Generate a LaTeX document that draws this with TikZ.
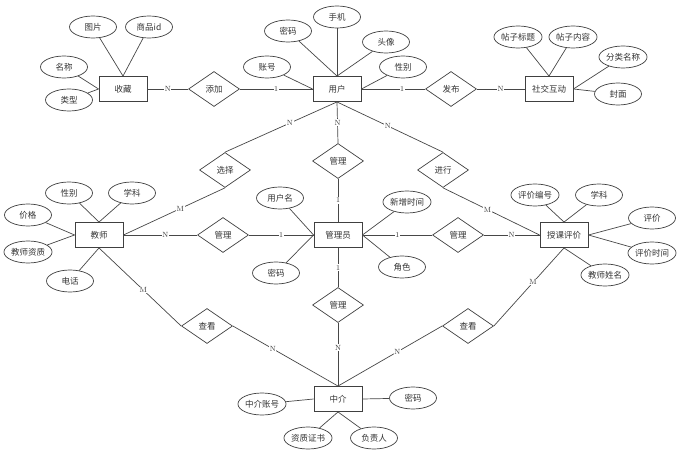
\documentclass[tikz,border=0pt]{standalone}
\usepackage{fontspec}
\newfontfamily\cjk{Noto Sans CJK SC}
\usetikzlibrary{shapes.geometric}
\tikzset{
	entity/.style={draw=black!75, line width=0.9pt, rectangle, minimum width=48pt, minimum height=25pt, inner sep=0pt, font=\cjk\fontsize{8.5}{9}\selectfont, text=black!80},
	attr/.style={draw=black!75, line width=0.7pt, ellipse, minimum width=47pt, minimum height=22pt, inner sep=0pt, font=\cjk\fontsize{8.5}{9}\selectfont, text=black!80},
	rel/.style={draw=black!75, line width=0.7pt, diamond, shape aspect=1.46, minimum width=51pt, minimum height=35pt, inner sep=0pt, font=\cjk\fontsize{8.5}{9}\selectfont, text=black!80},
	card/.style={fill=white, inner sep=0.6pt, font=\fontsize{7.5}{7.5}\selectfont, text=black!80},
	link/.style={draw=black!72, line width=0.7pt}
}

\begin{document}
\begin{tikzpicture}[x=1pt, y=-1pt]
			%%%%% START %%%%%
			\useasboundingbox (0, 0) rectangle (682, 462);
			
			\node[entity] (shoucang) at (123, 89) {收藏};
			\node[entity] (yonghu) at (337, 89) {用户};
			\node[entity] (shejiao) at (549, 89) {社交互动};
			\node[entity] (jiaoshi) at (99, 235) {教师};
			\node[entity] (guanliyuan) at (338, 235) {管理员};
			\node[entity] (pingjia) at (564, 235) {授课评价};
			\node[entity] (zhongjie) at (338, 399) {中介};
			
			\node[rel] (tianjia) at (214, 89) {添加};
			\node[rel] (fabu) at (451, 89) {发布};
			\node[rel] (xuanze) at (225, 170) {选择};
			\node[rel] (guanliT) at (338, 161) {管理};
			\node[rel] (jinxing) at (443, 170) {进行};
			\node[rel] (guanliL) at (223, 235) {管理};
			\node[rel] (guanliR) at (458, 235) {管理};
			\node[rel] (guanliB) at (338, 305) {管理};
			\node[rel] (chakanL) at (207, 326) {查看};
			\node[rel] (chakanR) at (468, 326) {查看};
			
			\node[attr] (tupian) at (93, 27) {图片};
			\node[attr] (spid) at (149, 27) {商品id};
			\node[attr] (mingcheng) at (64, 67) {名称};
			\node[attr] (leixing) at (69, 100) {类型};
			\draw[link] (tupian) -- (shoucang.north);
			\draw[link] (spid) -- (shoucang.north);
			\draw[link] (mingcheng) -- (shoucang.west);
			\draw[link] (leixing) -- (shoucang.west);
			
			\node[attr] (zhanghao) at (267, 67) {账号};
			\node[attr] (mimaU) at (288, 31) {密码};
			\node[attr] (shouji) at (337, 17) {手机};
			\node[attr] (touxiang) at (386, 42) {头像};
			\node[attr] (xingbieU) at (403, 67) {性别};
			\draw[link] (zhanghao) -- (yonghu.west);
			\draw[link] (mimaU) -- (yonghu.north);
			\draw[link] (shouji) -- (yonghu.north);
			\draw[link] (touxiang) -- (yonghu.north);
			\draw[link] (xingbieU) -- (yonghu.east);
			
			\node[attr] (biaoti) at (518, 37) {帖子标题};
			\node[attr] (neirong) at (573, 37) {帖子内容};
			\node[attr] (fenlei) at (623, 57) {分类名称};
			\node[attr] (fengmian) at (618, 94) {封面};
			\draw[link] (biaoti) -- (shejiao.north);
			\draw[link] (neirong) -- (shejiao.north);
			\draw[link] (fenlei) -- (shejiao.east);
			\draw[link] (fengmian) -- (shejiao.east);
			
			\node[attr] (xingbieT) at (69, 193) {性别};
			\node[attr] (xuekeT) at (132, 193) {学科};
			\node[attr] (jiage) at (28, 215) {价格};
			\node[attr] (zizhi) at (28, 252) {教师资质};
			\node[attr] (dianhua) at (70, 281) {电话};
			\draw[link] (xingbieT) -- (jiaoshi.north);
			\draw[link] (xuekeT) -- (jiaoshi.north);
			\draw[link] (jiage) -- (jiaoshi.west);
			\draw[link] (zizhi) -- (jiaoshi.west);
			\draw[link] (dianhua) -- (jiaoshi.south);
			
			\node[attr] (yonghuming) at (280, 198) {用户名};
			\node[attr] (mimaA) at (276, 273) {密码};
			\node[attr] (xinzeng) at (407, 202) {新增时间};
			\node[attr] (juese) at (402, 267) {角色};
			\draw[link] (yonghuming) -- (guanliyuan.west);
			\draw[link] (mimaA) -- (guanliyuan.west);
			\draw[link] (xinzeng) -- (guanliyuan.east);
			\draw[link] (juese) -- (guanliyuan.east);
			
			\node[attr] (bianhao) at (535, 195) {评价编号};
			\node[attr] (xuekeP) at (599, 195) {学科};
			\node[attr] (pingjiaA) at (652, 218) {评价};
			\node[attr] (shijian) at (652, 253) {评价时间};
			\node[attr] (xingming) at (605, 275) {教师姓名};
			\draw[link] (bianhao) -- (pingjia.north);
			\draw[link] (xuekeP) -- (pingjia.north);
			\draw[link] (pingjiaA) -- (pingjia.east);
			\draw[link] (shijian) -- (pingjia.east);
			\draw[link] (xingming) -- (pingjia.south);
			
			\node[attr] (zhzhanghao) at (262, 404) {中介账号};
			\node[attr] (mimaZ) at (413, 398) {密码};
			\node[attr] (zhengshu) at (308, 438) {资质证书};
			\node[attr] (fuzeren) at (374, 438) {负责人};
			\draw[link] (zhzhanghao) -- (zhongjie.west);
			\draw[link] (mimaZ) -- (zhongjie.east);
			\draw[link] (zhengshu) -- (zhongjie.south);
			\draw[link] (fuzeren) -- (zhongjie.south);
			
			\draw[link] (shoucang.east) -- node[card] {N} (tianjia.west);
			\draw[link] (tianjia.east) -- node[card] {1} (yonghu.west);
			\draw[link] (yonghu.east) -- node[card, pos=0.64] {1} (fabu.west);
			\draw[link] (fabu.east) -- node[card] {N} (shejiao.west);
			
			\draw[link] (yonghu.south) -- node[card, pos=0.42] {N} (xuanze.north);
			\draw[link] (xuanze.south) -- node[card, pos=0.44] {M} (jiaoshi.east);
			\draw[link] (yonghu.south) -- node[card] {N} (guanliT.north);
			\draw[link] (guanliT.south) -- node[card] {1} (guanliyuan.north);
			\draw[link] (yonghu.south) -- node[card, pos=0.48] {N} (jinxing.north);
			\draw[link] (jinxing.south) -- node[card, pos=0.46] {M} (pingjia.west);
			
			\draw[link] (jiaoshi.east) -- node[card, pos=0.57] {N} (guanliL.west);
			\draw[link] (guanliL.east) -- node[card] {1} (guanliyuan.west);
			\draw[link] (guanliyuan.east) -- node[card] {1} (guanliR.west);
			\draw[link] (guanliR.east) -- node[card] {N} (pingjia.west);
			
			\draw[link] (guanliyuan.south) -- node[card] {1} (guanliB.north);
			\draw[link] (guanliB.south) -- node[card, pos=0.39] {N} (zhongjie.north);
			\draw[link] (jiaoshi.south) -- node[card, pos=0.54] {M} (chakanL.west);
			\draw[link] (chakanL.east) -- node[card, pos=0.38] {N} (zhongjie.north);
			\draw[link] (pingjia.south) -- node[card, pos=0.44] {M} (chakanR.east);
			\draw[link] (chakanR.west) -- node[card, pos=0.43] {N} (zhongjie.north);
			
			%%%%% END %%%%%
		\end{tikzpicture}
\end{document}
